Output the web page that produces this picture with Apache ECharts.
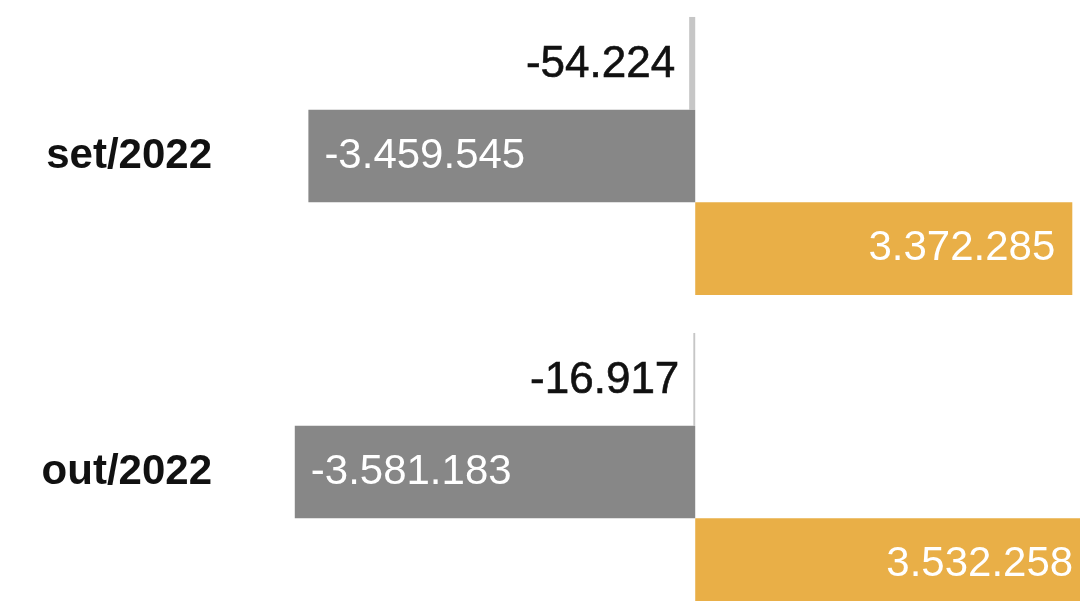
<!DOCTYPE html>
<html>
<head>
<meta charset="utf-8">
<style>
  html, body { margin: 0; padding: 0; width: 1080px; height: 601px; overflow: hidden; background: #fff; }
  #chart { position: absolute; left: 0; top: -3px; width: 1100px; height: 640px; }
</style>
<script src="https://cdn.jsdelivr.net/npm/echarts@6/dist/echarts.min.js"></script>
</head>
<body>
<div id="chart"></div>
<script>
const categories = ['set/2022', 'out/2022']
const smallValues = [-54224, -16917]
const grayValues = [-3459545, -3581183]
const orangeValues = [3372285, 3532258]

// formato pt-BR: 3.372.285
function fmt(v)
{
  const s = Math.abs(v).toString().replace(/\B(?=(\d{3})+(?!\d))/g, '.')
  return (v < 0 ? '-' : '') + s
}

const font = 'Liberation Sans, Arial, Helvetica, sans-serif'
const chart = echarts.init(document.getElementById('chart'))
const option = {
  animation: false,
  grid: { left: 220, right: 0, top: 1, bottom: 7 },
  xAxis: {
    type: 'value',
    min: -4250000,
    max: 3620000,
    axisLabel: { show: false },
    axisLine: { show: false },
    axisTick: { show: false },
    splitLine: { show: false }
  },
  yAxis: {
    type: 'category',
    inverse: true,
    data: categories,
    axisLine: { show: false },
    axisTick: { show: false },
    axisLabel: {
      margin: 8,
      color: '#111',
      fontSize: 42,
      fontWeight: 'bold',
      fontFamily: font
    }
  },
  series: [
    {
      type: 'bar',
      data: smallValues,
      barGap: 0,
      barCategoryGap: '12%',
      itemStyle: { color: '#c6c6c6' },
      label: {
        show: true,
        position: 'left',
        distance: 14,
        offset: [0, 2],
        color: '#111',
        fontSize: 44,
        fontFamily: font,
        textBorderColor: '#111',
        textBorderWidth: 0.6,
        formatter: p => fmt(p.value)
      }
    },
    {
      type: 'bar',
      data: grayValues,
      barGap: 0,
      barCategoryGap: '12%',
      itemStyle: { color: '#878787' },
      label: {
        show: true,
        position: 'insideLeft',
        distance: 16,
        color: '#fff',
        fontSize: 42,
        fontFamily: font,
        formatter: p => fmt(p.value)
      }
    },
    {
      type: 'bar',
      data: orangeValues,
      barGap: 0,
      barCategoryGap: '12%',
      itemStyle: { color: '#e9af47' },
      label: {
        show: true,
        position: 'insideRight',
        distance: 17,
        color: '#fff',
        fontSize: 42,
        fontFamily: font,
        formatter: p => fmt(p.value)
      }
    }
  ]
}
chart.setOption(option)
</script>
</body>
</html>
